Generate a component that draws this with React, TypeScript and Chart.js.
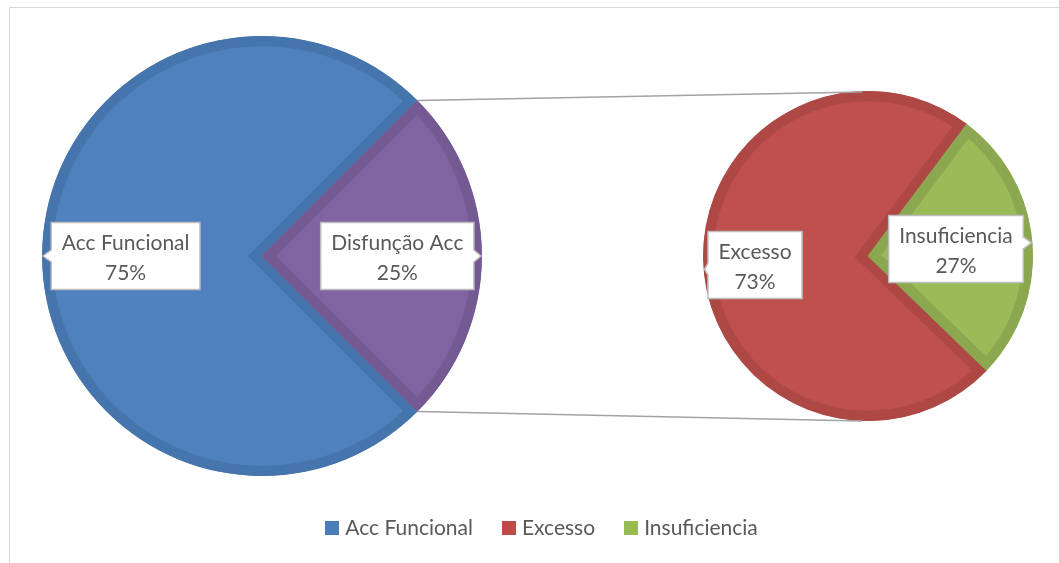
import React, { useEffect, useRef } from "react";
import { Chart, registerables } from "chart.js";

Chart.register(...registerables);

// ---- data ----
const primaryLabels = ["Acc Funcional", "Disfunção Acc"];
const primaryValues = [75, 25];
const secondaryLabels = ["Excesso", "Insuficiencia"];
const secondaryValues = [73, 27];
const legendLabels = ["Acc Funcional", "Excesso", "Insuficiencia"];

// ---- styles ----
const primaryFill = ["#4F81BD", "#8064A2"];
const primaryBand = ["#4675AD", "#735A93"];
const secondaryFill = ["#C0504D", "#9BBB59"];
const secondaryBand = ["#AD4845", "#8BA850"];
const legendColors = ["#4A7EBB", "#BE4B48", "#98B954"];
const FONT = "Lato";
const TEXT = "#595959";
const W = 1059;
const H = 563;

const calloutPlugin = {
  id: "callouts",
  afterDatasetsDraw(chart: any, _args: any, opts: any) {
    const meta = chart.getDatasetMeta(0);
    const ds = chart.data.datasets[0];
    const total = ds.data.reduce((a: number, b: number) => a + b, 0);
    const ctx = chart.ctx;
    ctx.save();
    ctx.font = `${opts.fontSize}px ${FONT}`;
    meta.data.forEach((arc: any, i: number) => {
      const p = arc.getProps(["x", "y", "startAngle", "endAngle", "outerRadius"], true);
      const mid = (p.startAngle + p.endAngle) / 2;
      const frac = opts.fractions[i];
      const cx = p.x + Math.cos(mid) * p.outerRadius * frac;
      const cy = p.y + Math.sin(mid) * p.outerRadius * frac;
      const lines = [chart.data.labels[i], Math.round((ds.data[i] / total) * 100) + "%"];
      const w = Math.max(...lines.map((l: string) => ctx.measureText(l).width)) + 2 * opts.padX;
      const h = opts.boxHeight;
      const left = cx - w / 2, right = cx + w / 2, top = cy - h / 2, bottom = cy + h / 2;
      const tx = p.x + Math.cos(mid) * (p.outerRadius - 1);
      const ty = p.y + Math.sin(mid) * (p.outerRadius - 1);
      const b1 = Math.max(top, Math.min(ty - 6, bottom - 12));
      const b2 = b1 + 12;
      const onRight = tx > right;
      const onLeft = tx < left;
      ctx.beginPath();
      ctx.moveTo(left, top);
      ctx.lineTo(right, top);
      if (onRight) {
        ctx.lineTo(right, b1);
        ctx.lineTo(tx, ty);
        ctx.lineTo(right, b2);
      }
      ctx.lineTo(right, bottom);
      ctx.lineTo(left, bottom);
      if (onLeft) {
        ctx.lineTo(left, b2);
        ctx.lineTo(tx, ty);
        ctx.lineTo(left, b1);
      }
      ctx.closePath();
      ctx.fillStyle = "#FFFFFF";
      ctx.fill();
      ctx.lineWidth = 1.5;
      ctx.strokeStyle = "#BDBDBD";
      ctx.lineJoin = "miter";
      ctx.stroke();
      ctx.fillStyle = TEXT;
      ctx.textAlign = "center";
      ctx.textBaseline = "alphabetic";
      ctx.fillText(lines[0], cx, cy - 6);
      ctx.fillText(lines[1], cx, cy + 24);
    });
    ctx.restore();
  },
};

function pieOptions(rotation: number, pad: any, fractions: number[]) {
  return {
    responsive: false,
    animation: false as const,
    events: [] as any[],
    rotation,
    layout: { padding: pad },
    plugins: {
      legend: { display: false },
      tooltip: { enabled: false },
      callouts: { fractions, fontSize: 21, padX: 10.5, boxHeight: 67 },
    },
  };
}

export default function App() {
  const leftRef = useRef<HTMLCanvasElement>(null);
  const rightRef = useRef<HTMLCanvasElement>(null);

  useEffect(() => {
    const left = new Chart(leftRef.current as HTMLCanvasElement, {
      type: "pie",
      data: {
        labels: primaryLabels,
        datasets: [
          {
            data: primaryValues,
            backgroundColor: primaryFill,
            borderColor: primaryBand,
            borderWidth: 10,
            borderAlign: "inner",
            borderJoinStyle: "miter",
          } as any,
        ],
      },
      options: pieOptions(135, { left: 42, right: W - 482, top: 36, bottom: H - 476 }, [0.62, 0.615]) as any,
      plugins: [calloutPlugin],
    });

    const connectorPlugin = {
      id: "connectors",
      afterDraw(chart: any) {
        const lm = left.getDatasetMeta(0);
        const arc: any = lm.data[1];
        const p = arc.getProps(["x", "y", "startAngle", "endAngle", "outerRadius"], true);
        const rm: any = chart.getDatasetMeta(0).data[0];
        const q = rm.getProps(["x", "y", "outerRadius"], true);
        const ctx = chart.ctx;
        ctx.save();
        ctx.strokeStyle = "#A3A3A3";
        ctx.lineWidth = 1.6;
        ctx.beginPath();
        ctx.moveTo(p.x + Math.cos(p.startAngle) * p.outerRadius, p.y + Math.sin(p.startAngle) * p.outerRadius);
        ctx.lineTo(q.x - 6, q.y - q.outerRadius + 1);
        ctx.moveTo(p.x + Math.cos(p.endAngle) * p.outerRadius, p.y + Math.sin(p.endAngle) * p.outerRadius);
        ctx.lineTo(q.x - 6, q.y + q.outerRadius);
        ctx.stroke();
        ctx.restore();
      },
    };

    const right = new Chart(rightRef.current as HTMLCanvasElement, {
      type: "pie",
      data: {
        labels: secondaryLabels,
        datasets: [
          {
            data: secondaryValues,
            backgroundColor: secondaryFill,
            borderColor: secondaryBand,
            borderWidth: 10,
            borderAlign: "inner",
            borderJoinStyle: "miter",
          } as any,
        ],
      },
      options: pieOptions(134, { left: 703, right: W - 1033, top: 91, bottom: H - 421 }, [0.687, 0.535]) as any,
      plugins: [calloutPlugin, connectorPlugin],
    });

    return () => {
      right.destroy();
      left.destroy();
    };
  }, []);

  const canvasStyle: React.CSSProperties = { position: "absolute", left: 0, top: 0 };

  return (
    <div
      style={{
        position: "fixed",
        left: 0,
        top: 0,
        width: W,
        height: H,
        overflow: "hidden",
        background: "#FFFFFF",
      }}
    >
      <div
        style={{
          position: "absolute",
          left: 9,
          top: 7,
          width: 1100,
          height: 620,
          border: "1px solid #D9D9D9",
          boxSizing: "border-box",
        }}
      />
      <canvas ref={leftRef} width={W} height={H} style={canvasStyle} />
      <canvas ref={rightRef} width={W} height={H} style={canvasStyle} />
      <div
        style={{
          position: "absolute",
          left: 0,
          top: 514,
          width: 1083,
          display: "flex",
          justifyContent: "center",
          alignItems: "center",
          fontFamily: FONT,
          fontSize: 21,
          color: TEXT,
          lineHeight: "25px",
          whiteSpace: "nowrap",
        }}
      >
        {legendLabels.map((label, i) => (
          <div
            key={label}
            style={{ display: "flex", alignItems: "center", marginRight: i < legendLabels.length - 1 ? 29 : 0 }}
          >
            <span
              style={{
                display: "inline-block",
                width: 14,
                height: 14,
                background: legendColors[i],
                marginRight: 6,
                marginTop: 2,
              }}
            />
            <span>{label}</span>
          </div>
        ))}
      </div>
    </div>
  );
}
